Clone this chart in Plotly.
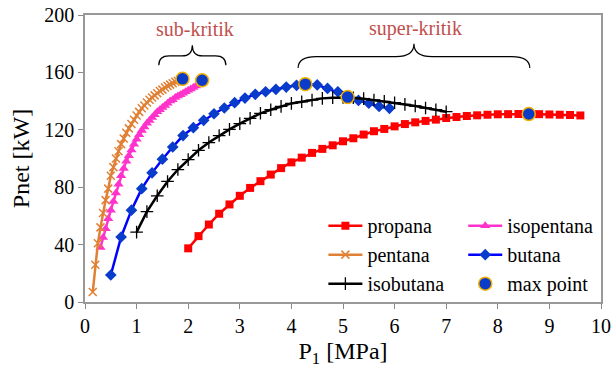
import plotly.graph_objects as go

# ---------------- data ----------------
propana_x = [2.0, 2.2, 2.4, 2.6, 2.8, 3.0, 3.2, 3.4, 3.6, 3.8, 4.0, 4.2, 4.4, 4.6, 4.8, 5.0, 5.2, 5.4, 5.6, 5.8,
             6.0, 6.2, 6.4, 6.6, 6.8, 7.0, 7.2, 7.4, 7.6, 7.8, 8.0, 8.2, 8.4, 8.6, 8.8, 9.0, 9.2, 9.4, 9.6]
propana_y = [37.4, 45.9, 54.0, 61.5, 68.0, 74.0, 79.5, 84.2, 88.8, 93.3, 97.3, 100.6, 103.9, 106.7, 109.2, 112.0,
             114.1, 116.7, 119.0, 120.6, 122.4, 124.0, 125.2, 126.2, 127.1, 128.2, 128.9, 129.6, 130.1, 130.5,
             130.8, 130.9, 131.0, 131.0, 130.9, 130.7, 130.5, 130.3, 130.0]

pentana_x = [0.15, 0.20, 0.25, 0.30, 0.35, 0.40, 0.45, 0.50, 0.55, 0.60, 0.65, 0.70, 0.75, 0.80, 0.85, 0.90,
             0.95, 1.00, 1.05, 1.10, 1.15, 1.20, 1.25, 1.30, 1.35, 1.40, 1.45, 1.50, 1.55, 1.60, 1.65, 1.70,
             1.75, 1.80, 1.85, 1.90]
pentana_y = [7, 26, 41, 52, 62, 71, 79, 88, 94, 100, 105, 110, 114, 118, 121, 124, 127, 130, 132.5, 135, 137,
             139, 141, 142.5, 144, 145.5, 147, 148, 149.5, 150.5, 151.5, 152.5, 153.5, 154, 154.5, 155]

isopentana_x = [0.30, 0.35, 0.40, 0.45, 0.50, 0.55, 0.60, 0.65, 0.70, 0.75, 0.80, 0.85, 0.90, 0.95, 1.00, 1.05,
                1.10, 1.15, 1.20, 1.25, 1.30, 1.35, 1.40, 1.45, 1.50, 1.55, 1.60, 1.65, 1.70, 1.75, 1.80, 1.85,
                1.90, 1.95, 2.00, 2.05, 2.10, 2.15, 2.20, 2.25]
isopentana_y = [38, 45, 51, 58, 64, 70, 76, 82, 88, 93, 98, 102, 106, 110, 113.5, 116.5, 119.5, 122, 124.5,
                126.5, 128.5, 130.5, 132.5, 134, 135.5, 137, 138.5, 140, 141, 142.5, 143.5, 144.5, 145.5, 146.5,
                147.5, 148.5, 149.5, 150.5, 151.5, 152.5]

butana_x = [0.5, 0.7, 0.9, 1.1, 1.3, 1.5, 1.7, 1.9, 2.1, 2.3, 2.5, 2.7, 2.9, 3.1, 3.3, 3.5, 3.7, 3.9, 4.1, 4.3,
            4.5, 4.7, 4.9, 5.1, 5.3, 5.5, 5.7, 5.9]
butana_y = [18.8, 45.3, 64.0, 79.0, 90.0, 99.5, 108.0, 116.0, 121.5, 126.6, 131.2, 135.2, 138.9, 142.1, 144.7,
            146.5, 148.2, 149.8, 151.0, 151.7, 151.3, 148.8, 146.5, 143.5, 140.5, 138.5, 136.3, 135.0]

isobutana_x = [1.0, 1.2, 1.4, 1.6, 1.8, 2.0, 2.2, 2.4, 2.6, 2.8, 3.0, 3.2, 3.4, 3.6, 3.8, 4.0, 4.2, 4.4, 4.6,
               4.8, 5.0, 5.2, 5.4, 5.6, 5.8, 6.0, 6.2, 6.4, 6.6, 6.8, 7.0]
isobutana_y = [48.7, 63.0, 74.0, 84.0, 92.3, 99.2, 105.7, 111.1, 116.0, 120.3, 124.3, 128.0, 131.5, 134.0,
               136.3, 138.4, 139.5, 140.7, 141.9, 142.4, 142.6, 142.3, 141.7, 140.8, 139.8, 138.9, 137.7,
               136.6, 135.2, 134.0, 132.6]

max_x = [1.89, 2.27, 4.27, 5.09, 8.6]
max_y = [155.5, 154.5, 151.8, 142.8, 131.0]

x_ticks = [0, 1, 2, 3, 4, 5, 6, 7, 8, 9, 10]
y_ticks = [0, 40, 80, 120, 160, 200]

FONT = "Liberation Serif, Times New Roman, serif"
FS = 20

fig = go.Figure()

fig.add_trace(go.Scatter(x=propana_x, y=propana_y, name="propana", mode="lines+markers",
                         line=dict(color="#ff0000", width=2.5),
                         marker=dict(symbol="square", size=8, color="#ff0000"),
                         legend="legend", legendgroup="g1"))
fig.add_trace(go.Scatter(x=isopentana_x, y=isopentana_y, name="isopentana", mode="lines+markers",
                         line=dict(color="#ff33cc", width=2.5),
                         marker=dict(symbol="triangle-up", size=9, color="#ff33cc"),
                         legend="legend2", legendgroup="g2"))
fig.add_trace(go.Scatter(x=pentana_x, y=pentana_y, name="pentana", mode="lines+markers",
                         line=dict(color="#e08035", width=2.5),
                         marker=dict(symbol="x-thin", size=8, color="#e08035",
                                     line=dict(color="#e08035", width=1.5)),
                         legend="legend", legendgroup="g3"))
fig.add_trace(go.Scatter(x=butana_x, y=butana_y, name="butana", mode="lines+markers",
                         line=dict(color="#0000ff", width=2.5),
                         marker=dict(symbol="diamond", size=9, color="#0a3ccc"),
                         legend="legend2", legendgroup="g4"))
fig.add_trace(go.Scatter(x=isobutana_x, y=isobutana_y, name="isobutana", mode="lines+markers",
                         line=dict(color="#000000", width=2.5),
                         marker=dict(symbol="cross-thin", size=9, color="#000000",
                                     line=dict(color="#000000", width=1.3)),
                         legend="legend", legendgroup="g5"))
fig.add_trace(go.Scatter(x=max_x, y=max_y, name="max point", mode="markers",
                         marker=dict(symbol="circle", size=13, color="#0a3cc8",
                                     line=dict(color="#f5b000", width=1.5)),
                         legend="legend2", legendgroup="g6"))

# braces
def brace(x1, x2, ycusp, ymid, yend, r):
    xc = (x1 + x2) / 2
    return (f"M {x1},{yend} Q {x1},{ymid} {x1 + r},{ymid} L {xc - r},{ymid} "
            f"Q {xc},{ymid} {xc},{ycusp} Q {xc},{ymid} {xc + r},{ymid} "
            f"L {x2 - r},{ymid} Q {x2},{ymid} {x2},{yend}")

fig.add_shape(type="path", path=brace(1.43, 2.73, 179, 171.5, 165, 0.2),
              xref="x", yref="y", line=dict(color="black", width=1.2))
fig.add_shape(type="path", path=brace(4.13, 8.62, 180, 171, 163, 0.35),
              xref="x", yref="y", line=dict(color="black", width=1.2))

fig.add_annotation(x=2.13, y=190.5, text="sub-kritik", showarrow=False, xref="x", yref="y",
                   font=dict(family=FONT, size=FS, color="#c0504d"))
fig.add_annotation(x=6.4, y=190.5, text="super-kritik", showarrow=False, xref="x", yref="y",
                   font=dict(family=FONT, size=FS, color="#c0504d"))

leg_common = dict(orientation="v", font=dict(family=FONT, size=FS, color="black"),
                  bgcolor="rgba(0,0,0,0)", xanchor="left", yanchor="middle",
                  tracegroupgap=0, borderwidth=0, itemwidth=34)
fig.update_layout(
    legend=dict(x=0.462, y=0.165, **leg_common),
    legend2=dict(x=0.733, y=0.165, **leg_common),
)

fig.update_layout(
    width=613, height=372,
    margin=dict(l=85, r=12, t=15, b=70),
    paper_bgcolor="white", plot_bgcolor="white",
    font=dict(family=FONT, size=FS, color="black"),
    xaxis=dict(range=[0, 10], tickvals=x_ticks, ticks="outside", ticklen=5, tickcolor="#888888",
               showline=True, linecolor="#999999", linewidth=1.5, mirror=True, showgrid=False,
               zeroline=False, automargin=False, title=dict(text="P<sub>1</sub> [MPa]", standoff=6),
               tickfont=dict(family=FONT, size=FS)),
    yaxis=dict(range=[0, 200], tickvals=y_ticks, ticks="outside", ticklen=5, tickcolor="#888888",
               showline=True, linecolor="#999999", linewidth=1.5, mirror=True, showgrid=False,
               zeroline=False, automargin=False, title=dict(text="Pnet [kW]", standoff=8),
               tickfont=dict(family=FONT, size=FS)),
)

fig.write_html("out.html", config={"displayModeBar": False},
               post_script="document.body.style.margin='0';")
